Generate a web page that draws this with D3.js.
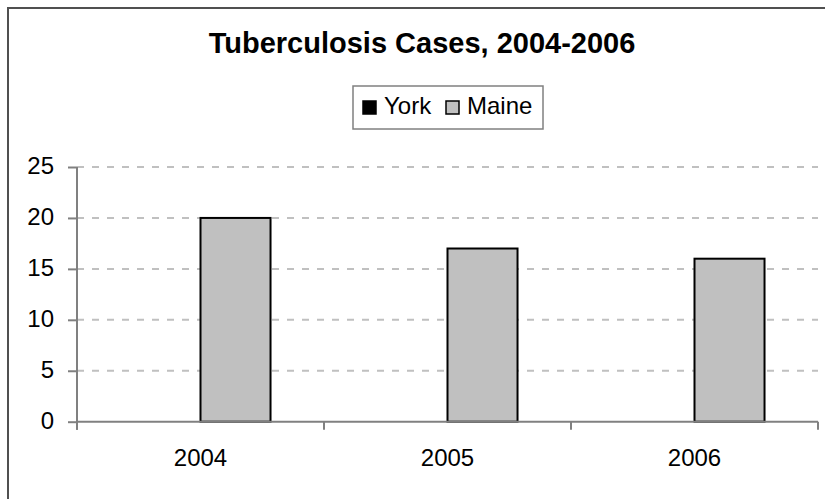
<!DOCTYPE html>
<html>
<head>
<meta charset="utf-8">
<script src="https://cdn.jsdelivr.net/npm/d3@7"></script>
<style>
  html, body { margin: 0; padding: 0; background: #fff; }
  svg { display: block; font-family: Arial, "Liberation Sans", sans-serif; }
</style>
</head>
<body>
<svg id="chart"></svg>
<script>
const years = ['2004', '2005', '2006'];
const seriesNames = ['York', 'Maine'];
const york = [0, 0, 0];
const maine = [20, 17, 16];
const yTicks = [0, 5, 10, 15, 20, 25];
const seriesColors = ['#000000', '#c0c0c0'];

const width = 825;
const height = 499;
const plot = { left: 77, right: 818, top: 167, bottom: 421.7 };

const svg = d3.select('#chart')
  .attr('width', width)
  .attr('height', height);

// chart frame (only left and top edges fall inside the picture)
svg.append('rect')
  .attr('x', 8).attr('y', 8)
  .attr('width', 900).attr('height', 600)
  .attr('fill', 'none')
  .attr('stroke', '#505050')
  .attr('stroke-width', 2);

const x0 = d3.scaleBand()
  .domain(years)
  .range([plot.left, plot.right])
  .paddingInner(0.433)
  .paddingOuter(0.2165);

const x1 = d3.scaleBand()
  .domain(seriesNames)
  .range([0, x0.bandwidth()]);

const y = d3.scaleLinear()
  .domain([0, 25])
  .range([plot.bottom, plot.top]);

// dashed gridlines
svg.append('g')
  .selectAll('line')
  .data(yTicks.filter(d => d > 0))
  .enter()
  .append('line')
  .attr('x1', plot.left)
  .attr('x2', plot.right)
  .attr('y1', d => y(d))
  .attr('y2', d => y(d))
  .attr('stroke', '#c0c0c0')
  .attr('stroke-width', 2)
  .attr('stroke-dasharray', '7,8');

// bars
const rows = years.map((yr, i) => ({ year: yr, values: [york[i], maine[i]] }));

svg.append('g')
  .selectAll('g')
  .data(rows)
  .enter()
  .append('g')
  .attr('transform', d => `translate(${x0(d.year)},0)`)
  .selectAll('rect')
  .data(d => d.values.map((v, j) => ({ key: seriesNames[j], value: v, idx: j })))
  .enter()
  .filter(d => d.value > 0)
  .append('rect')
  .attr('x', d => x1(d.key))
  .attr('y', d => y(d.value))
  .attr('width', x1.bandwidth())
  .attr('height', d => y(0) - y(d.value))
  .attr('fill', d => seriesColors[d.idx])
  .attr('stroke', '#000')
  .attr('stroke-width', 2);

// y axis
const yAxis = svg.append('g')
  .attr('transform', `translate(${plot.left},0)`)
  .call(d3.axisLeft(y).tickValues(yTicks).tickSize(9).tickPadding(14));
yAxis.select('.domain').attr('stroke', '#808080').attr('stroke-width', 2)
  .attr('d', `M0,${plot.top}V${plot.bottom + 8}`);
yAxis.selectAll('.tick line').attr('stroke', '#808080').attr('stroke-width', 2);
yAxis.selectAll('.tick text')
  .attr('font-size', 24)
  .attr('font-family', 'Arial, "Liberation Sans", sans-serif')
  .attr('fill', '#000')
  .attr('dy', '0.27em');

// x axis: labels at category centres, ticks at category boundaries
const xAxis = svg.append('g')
  .attr('transform', `translate(0,${plot.bottom})`)
  .call(d3.axisBottom(x0).tickSize(0).tickPadding(44));
xAxis.select('.domain').attr('stroke', '#808080').attr('stroke-width', 2)
  .attr('d', `M${plot.left},0H${plot.right}`);
xAxis.selectAll('.tick text')
  .attr('font-size', 24)
  .attr('font-family', 'Arial, "Liberation Sans", sans-serif')
  .attr('fill', '#000')
  .attr('dy', '0em');

const boundaries = d3.range(years.length + 1).map(i => x0.range()[0] + i * x0.step());
xAxis.append('g')
  .selectAll('line')
  .data(boundaries)
  .enter()
  .append('line')
  .attr('x1', d => d).attr('x2', d => d)
  .attr('y1', 0).attr('y2', 8)
  .attr('stroke', '#808080')
  .attr('stroke-width', 2);

// title
svg.append('text')
  .attr('x', 422)
  .attr('y', 53)
  .attr('text-anchor', 'middle')
  .attr('font-size', 29)
  .attr('font-weight', 'bold')
  .text('Tuberculosis Cases, 2004-2006');

// legend
const legend = svg.append('g').attr('transform', 'translate(353,86)');
legend.append('rect')
  .attr('width', 190).attr('height', 43)
  .attr('fill', '#fff')
  .attr('stroke', '#808080')
  .attr('stroke-width', 1.5);

const legendX = [10, 93];
const items = legend.selectAll('g.item')
  .data(seriesNames)
  .enter()
  .append('g')
  .attr('class', 'item')
  .attr('transform', (d, i) => `translate(${legendX[i]},0)`);
items.append('rect')
  .attr('x', 0).attr('y', 15)
  .attr('width', 13).attr('height', 13)
  .attr('fill', (d, i) => seriesColors[i])
  .attr('stroke', '#000')
  .attr('stroke-width', 1.5);
items.append('text')
  .attr('x', 21)
  .attr('y', 28)
  .attr('font-size', 24)
  .text(d => d);
</script>
</body>
</html>
